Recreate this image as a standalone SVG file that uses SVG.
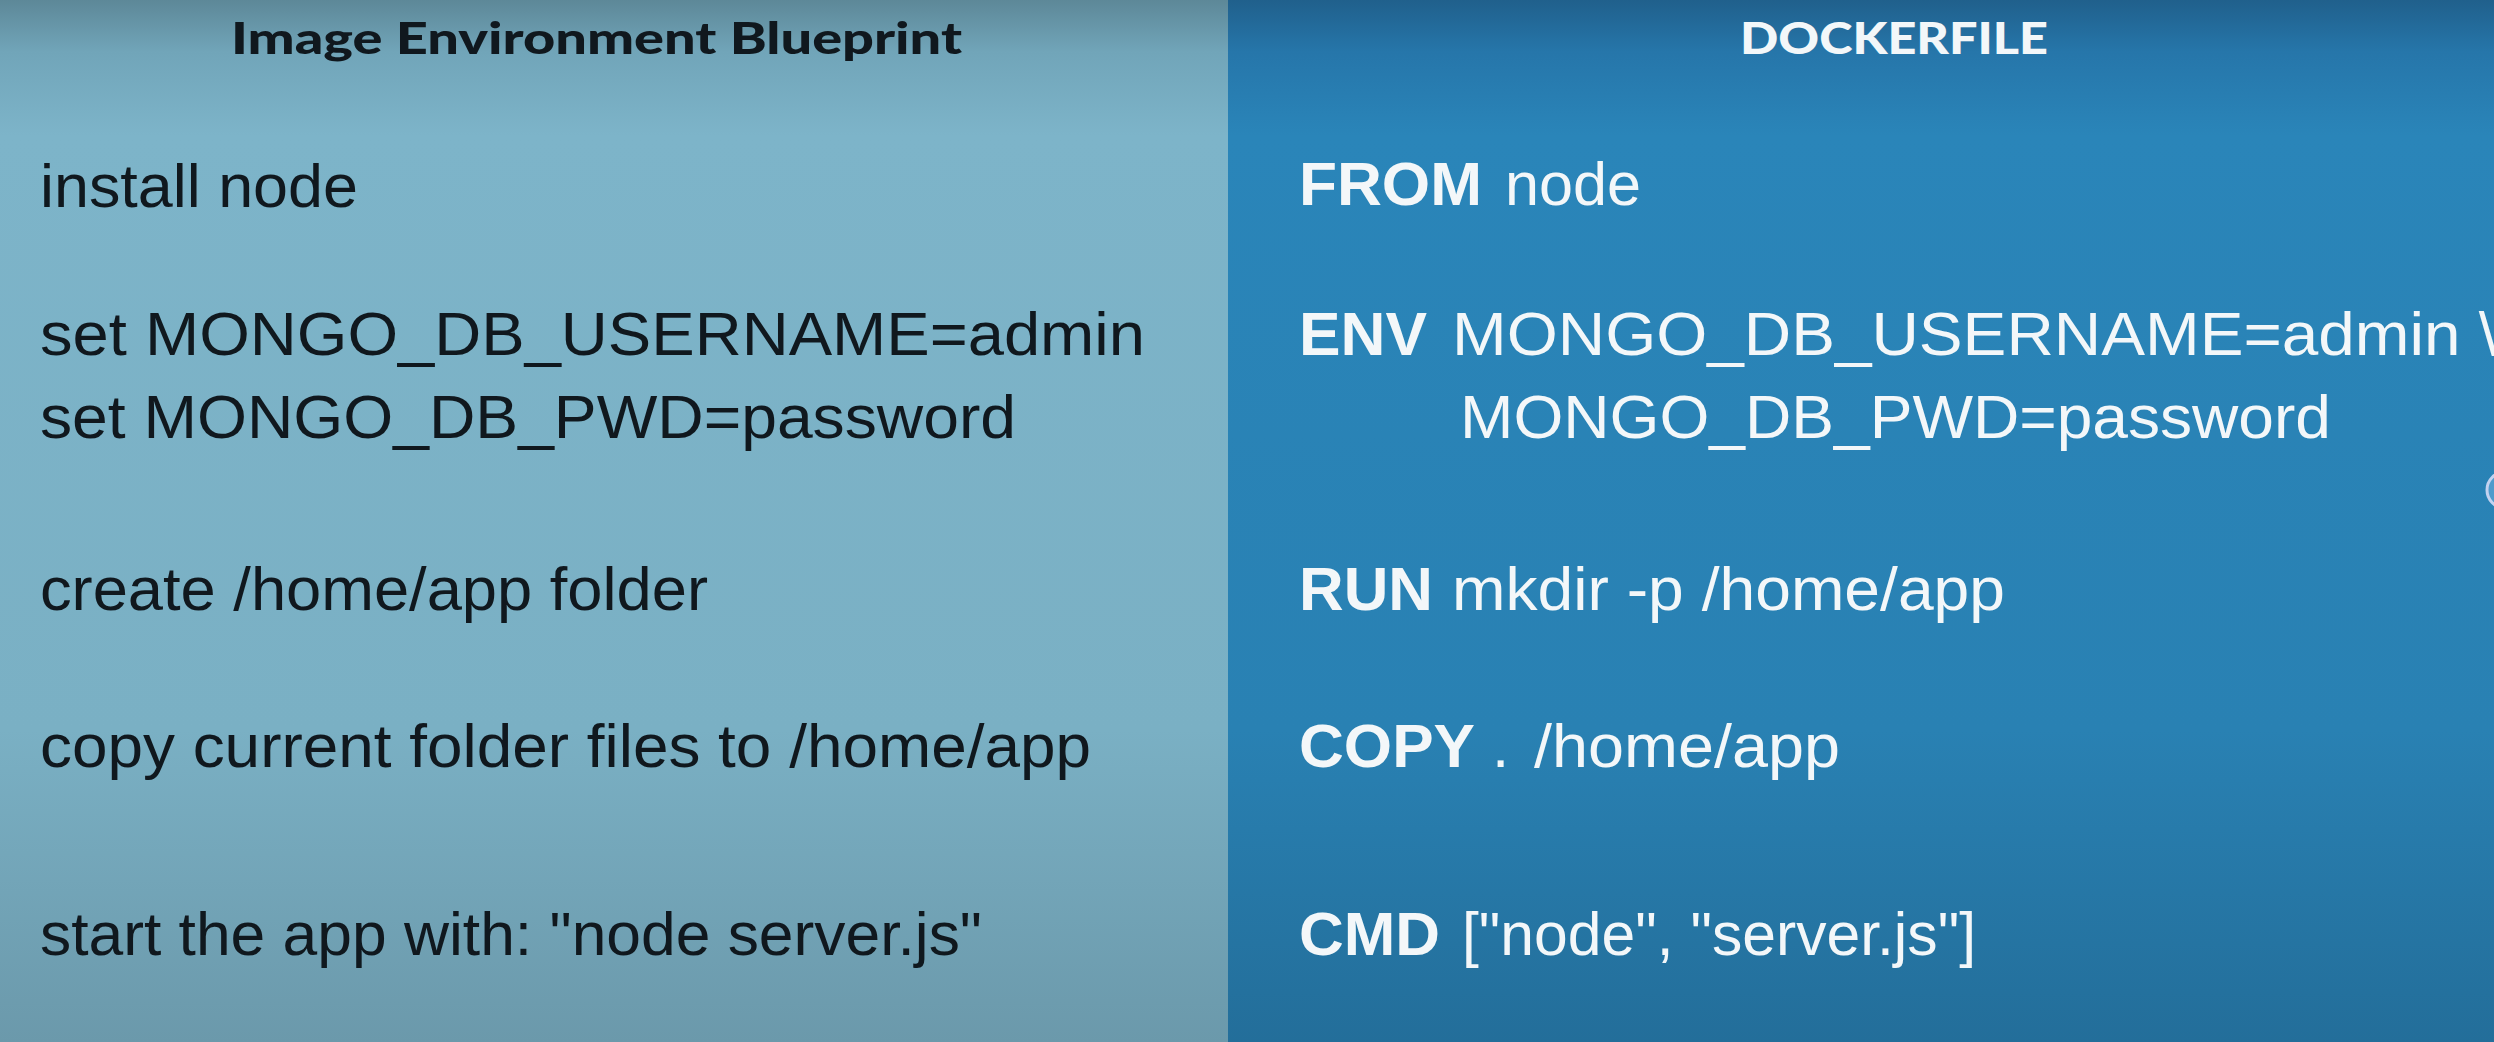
<svg xmlns="http://www.w3.org/2000/svg" width="2494" height="1042" viewBox="0 0 2494 1042">
  <defs>
    <linearGradient id="gLeft" x1="0" y1="0" x2="0" y2="1">
      <stop offset="0" stop-color="#5d8898"/>
      <stop offset="0.05" stop-color="#71a5b9"/>
      <stop offset="0.13" stop-color="#7db4c9"/>
      <stop offset="0.7" stop-color="#7ab0c4"/>
      <stop offset="1" stop-color="#6b99ab"/>
    </linearGradient>
    <linearGradient id="gRight" x1="0" y1="0" x2="0" y2="1">
      <stop offset="0" stop-color="#20608c"/>
      <stop offset="0.05" stop-color="#2676aa"/>
      <stop offset="0.13" stop-color="#2a85b9"/>
      <stop offset="0.7" stop-color="#2981b3"/>
      <stop offset="1" stop-color="#236e9a"/>
    </linearGradient>
    <style>
      .title { font-family: Lato, "Liberation Sans", sans-serif; font-weight: 900; font-size: 44px; }
      .dark { fill: #10181e; }
      .light { fill: #f3f7f9; }
      .body { font-family: "Liberation Sans", Arial, sans-serif; font-size: 62px; }
      .kw { font-family: "Liberation Sans", Arial, sans-serif; font-size: 62px; font-weight: bold; }
    </style>
  </defs>

  <g id="background">
    <rect x="0" y="0" width="1228" height="1042" fill="url(#gLeft)"/>
    <rect x="1228" y="0" width="1266" height="1042" fill="url(#gRight)"/>
  </g>

  <g id="blueprint-column">
    <text class="title dark" x="231" y="54" textLength="731" lengthAdjust="spacingAndGlyphs">Image Environment Blueprint</text>
    <g id="bp-install"><text class="body dark" x="40" y="207" textLength="318" lengthAdjust="spacingAndGlyphs">install node</text></g>
    <g id="bp-env">
      <text class="body dark" x="40" y="355" textLength="1105" lengthAdjust="spacingAndGlyphs">set MONGO_DB_USERNAME=admin</text>
      <text class="body dark" x="40" y="438" textLength="976" lengthAdjust="spacingAndGlyphs">set MONGO_DB_PWD=password</text>
    </g>
    <g id="bp-create"><text class="body dark" x="40" y="610" textLength="668" lengthAdjust="spacingAndGlyphs">create /home/app folder</text></g>
    <g id="bp-copy"><text class="body dark" x="40" y="767" textLength="1051" lengthAdjust="spacingAndGlyphs">copy current folder files to /home/app</text></g>
    <g id="bp-start"><text class="body dark" x="40" y="955" textLength="942" lengthAdjust="spacingAndGlyphs">start the app with: "node server.js"</text></g>
  </g>

  <g id="dockerfile-column">
    <text class="title light" x="1740" y="54" textLength="308" lengthAdjust="spacingAndGlyphs">DOCKERFILE</text>
    <g id="df-from">
      <text class="kw light" x="1299" y="205" textLength="183" lengthAdjust="spacingAndGlyphs">FROM</text>
      <text class="body light" x="1505" y="205" textLength="136" lengthAdjust="spacingAndGlyphs">node</text>
    </g>
    <g id="df-env">
      <text class="kw light" x="1299" y="355" textLength="128" lengthAdjust="spacingAndGlyphs">ENV</text>
      <text class="body light" x="1452" y="355" textLength="1045" lengthAdjust="spacingAndGlyphs">MONGO_DB_USERNAME=admin \</text>
      <text class="body light" x="1460" y="438" textLength="871" lengthAdjust="spacingAndGlyphs">MONGO_DB_PWD=password</text>
    </g>
    <g id="df-run">
      <text class="kw light" x="1299" y="610" textLength="134" lengthAdjust="spacingAndGlyphs">RUN</text>
      <text class="body light" x="1452" y="610" textLength="553" lengthAdjust="spacingAndGlyphs">mkdir -p /home/app</text>
    </g>
    <g id="df-copy">
      <text class="kw light" x="1299" y="767" textLength="176" lengthAdjust="spacingAndGlyphs">COPY</text>
      <text class="body light" x="1492" y="767">.</text>
      <text class="body light" x="1534" y="767" textLength="306" lengthAdjust="spacingAndGlyphs">/home/app</text>
    </g>
    <g id="df-cmd">
      <text class="kw light" x="1299" y="955" textLength="141" lengthAdjust="spacingAndGlyphs">CMD</text>
      <text class="body light" x="1462" y="955" textLength="514" lengthAdjust="spacingAndGlyphs">["node", "server.js"]</text>
    </g>
    <circle cx="2505" cy="490" r="18" fill="#4f9bcc" stroke="#c3d2f0" stroke-width="3"/>
  </g>
</svg>
